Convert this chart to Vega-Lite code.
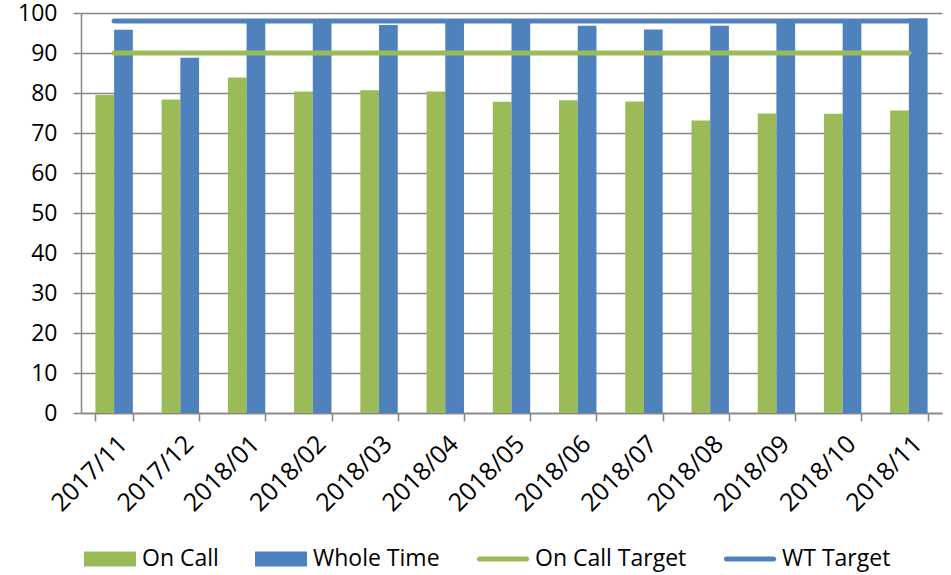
{
  "$schema": "https://vega.github.io/schema/vega-lite/v6.json",
  "width": 861,
  "height": 400,
  "autosize": {"type": "none"},
  "padding": {"left": 81, "top": 13, "right": 9, "bottom": 162},
  "background": "white",
  "config": {
    "font": "Open Sans",
    "view": {"stroke": null},
    "axis": {
      "labelFont": "Open Sans",
      "labelFontSize": 23,
      "labelColor": "#000000",
      "domainColor": "#868686",
      "tickColor": "#868686",
      "gridColor": "#868686",
      "domainWidth": 1.5,
      "tickWidth": 1.5,
      "gridWidth": 1.5,
      "tickSize": 8,
      "title": null
    }
  },
  "datasets": {
    "bars": [
      {"month": "2017/11", "series": "On Call", "value": 79.5},
      {"month": "2017/12", "series": "On Call", "value": 78.4},
      {"month": "2018/01", "series": "On Call", "value": 83.9},
      {"month": "2018/02", "series": "On Call", "value": 80.4},
      {"month": "2018/03", "series": "On Call", "value": 80.7},
      {"month": "2018/04", "series": "On Call", "value": 80.4},
      {"month": "2018/05", "series": "On Call", "value": 77.8},
      {"month": "2018/06", "series": "On Call", "value": 78.2},
      {"month": "2018/07", "series": "On Call", "value": 77.9},
      {"month": "2018/08", "series": "On Call", "value": 73.1},
      {"month": "2018/09", "series": "On Call", "value": 74.9},
      {"month": "2018/10", "series": "On Call", "value": 74.8},
      {"month": "2018/11", "series": "On Call", "value": 75.6},
      {"month": "2017/11", "series": "Whole Time", "value": 95.8},
      {"month": "2017/12", "series": "Whole Time", "value": 88.8},
      {"month": "2018/01", "series": "Whole Time", "value": 98.4},
      {"month": "2018/02", "series": "Whole Time", "value": 98.4},
      {"month": "2018/03", "series": "Whole Time", "value": 97.0},
      {"month": "2018/04", "series": "Whole Time", "value": 98.4},
      {"month": "2018/05", "series": "Whole Time", "value": 98.4},
      {"month": "2018/06", "series": "Whole Time", "value": 96.8},
      {"month": "2018/07", "series": "Whole Time", "value": 95.9},
      {"month": "2018/08", "series": "Whole Time", "value": 96.8},
      {"month": "2018/09", "series": "Whole Time", "value": 98.4},
      {"month": "2018/10", "series": "Whole Time", "value": 98.4},
      {"month": "2018/11", "series": "Whole Time", "value": 98.7}
    ],
    "targets": [
      {"month": "2017/11", "series": "On Call Target", "value": 90},
      {"month": "2017/12", "series": "On Call Target", "value": 90},
      {"month": "2018/01", "series": "On Call Target", "value": 90},
      {"month": "2018/02", "series": "On Call Target", "value": 90},
      {"month": "2018/03", "series": "On Call Target", "value": 90},
      {"month": "2018/04", "series": "On Call Target", "value": 90},
      {"month": "2018/05", "series": "On Call Target", "value": 90},
      {"month": "2018/06", "series": "On Call Target", "value": 90},
      {"month": "2018/07", "series": "On Call Target", "value": 90},
      {"month": "2018/08", "series": "On Call Target", "value": 90},
      {"month": "2018/09", "series": "On Call Target", "value": 90},
      {"month": "2018/10", "series": "On Call Target", "value": 90},
      {"month": "2018/11", "series": "On Call Target", "value": 90},
      {"month": "2017/11", "series": "WT Target", "value": 98},
      {"month": "2017/12", "series": "WT Target", "value": 98},
      {"month": "2018/01", "series": "WT Target", "value": 98},
      {"month": "2018/02", "series": "WT Target", "value": 98},
      {"month": "2018/03", "series": "WT Target", "value": 98},
      {"month": "2018/04", "series": "WT Target", "value": 98},
      {"month": "2018/05", "series": "WT Target", "value": 98},
      {"month": "2018/06", "series": "WT Target", "value": 98},
      {"month": "2018/07", "series": "WT Target", "value": 98},
      {"month": "2018/08", "series": "WT Target", "value": 98},
      {"month": "2018/09", "series": "WT Target", "value": 98},
      {"month": "2018/10", "series": "WT Target", "value": 98},
      {"month": "2018/11", "series": "WT Target", "value": 98}
    ]
  },
  "encoding": {
    "x": {
      "field": "month",
      "type": "nominal",
      "sort": null,
      "scale": {"paddingInner": 0.435, "paddingOuter": 0.2175},
      "axis": {
        "labelAngle": -45,
        "labelFontSize": 25,
        "labelPadding": 10,
        "tickBand": "extent",
        "grid": false
      }
    },
    "y": {
      "field": "value",
      "type": "quantitative",
      "scale": {"domain": [0, 100], "nice": false},
      "axis": {
        "values": [0, 10, 20, 30, 40, 50, 60, 70, 80, 90, 100],
        "grid": true,
        "labelPadding": 16,
        "domain": true
      }
    },
    "color": {
      "field": "series",
      "type": "nominal",
      "scale": {
        "domain": ["On Call", "Whole Time", "On Call Target", "WT Target"],
        "range": ["#9BBB59", "#4F81BD", "#9BBB59", "#4F81BD"]
      },
      "legend": {
        "orient": "none",
        "legendX": 3,
        "legendY": 520,
        "direction": "horizontal",
        "columns": 4,
        "title": null,
        "symbolSize": 2704,
        "labelFont": "Open Sans",
        "labelFontSize": 23,
        "labelColor": "#000000",
        "labelOffset": 6,
        "columnPadding": 36,
        "encode": {
          "symbols": {
            "update": {
              "shape": {"signal": "indexof(['On Call', 'Whole Time'], datum.value) >= 0 ? 'M-1,-0.29H1V0.29H-1Z' : 'M-0.91,-0.095H0.91A0.095,0.095 0 0 1 0.91,0.095H-0.91A0.095,0.095 0 0 1 -0.91,-0.095Z'"},
              "fill": {"scale": "color", "field": "value"},
              "fillOpacity": {"value": 1},
              "opacity": {"value": 1},
              "strokeWidth": {"value": 0}
            }
          }
        }
      }
    }
  },
  "layer": [
    {
      "data": {"name": "bars"},
      "mark": {"type": "bar"},
      "encoding": {
        "xOffset": {
          "field": "series",
          "type": "nominal",
          "sort": ["On Call", "Whole Time"],
          "scale": {"paddingInner": 0, "paddingOuter": 0}
        }
      }
    },
    {
      "data": {"name": "targets"},
      "mark": {"type": "line", "strokeWidth": 5, "strokeCap": "round"},
      "encoding": {"detail": {"field": "series"}}
    }
  ]
}
